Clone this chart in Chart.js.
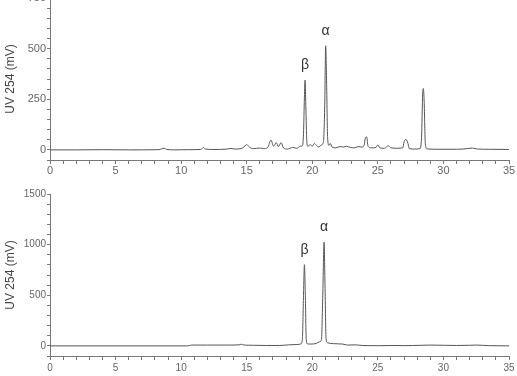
<!DOCTYPE html>
<html>
<head>
<meta charset="utf-8">
<script src="https://cdn.jsdelivr.net/npm/chart.js@4.4.0/dist/chart.umd.min.js"></script>
<style>
  body { margin: 0; background: #fff; }
  #wrap { position: relative; width: 517px; height: 376px; overflow: hidden; background: #fff; }
  canvas { position: absolute; left: 0; }
  #topChart { top: -12px; }
  #bottomChart { top: 184px; }
</style>
</head>
<body>
<div id="wrap">
  <canvas id="topChart" width="517" height="192"></canvas>
  <canvas id="bottomChart" width="517" height="192"></canvas>
</div>
<script>
// retention time (min) and detector signal (mV)
const timesTop = [0, 2, 4, 6, 8.3, 8.55, 8.7, 8.9, 9.5, 10.5, 11.5, 11.7, 11.85, 12.5, 13.5, 13.8, 14.1, 14.7, 15.0, 15.2, 15.5, 16.0, 16.3, 16.6, 16.85, 17.05, 17.25, 17.42, 17.62, 17.8, 18.1, 18.5, 18.8, 19.1, 19.25, 19.33, 19.4, 19.45, 19.5, 19.57, 19.65, 19.85, 20.0, 20.15, 20.3, 20.45, 20.7, 20.85, 20.95, 21.02, 21.09, 21.17, 21.27, 21.37, 21.5, 21.8, 22.1, 22.4, 22.6, 22.9, 23.2, 23.5, 23.8, 23.95, 24.05, 24.15, 24.25, 24.5, 24.85, 25.0, 25.15, 25.5, 25.8, 26.0, 26.5, 26.9, 27.0, 27.15, 27.3, 27.4, 27.8, 28.2, 28.33, 28.42, 28.47, 28.53, 28.62, 28.75, 29.5, 30.5, 31.5, 32.2, 32.6, 33.5, 35];
const valuesTop = [0, 0, 1, 0, 1, 6, 8, 2, 0, 1, 2, 12, 4, 2, 4, 7, 4, 10, 26, 14, 6, 9, 6, 12, 48, 18, 36, 16, 36, 10, 4, 12, 8, 18, 20, 80, 260, 344, 240, 60, 18, 26, 18, 32, 24, 14, 24, 40, 220, 514, 340, 60, 22, 32, 14, 10, 16, 14, 18, 12, 10, 16, 14, 22, 60, 64, 18, 10, 12, 24, 10, 8, 20, 10, 8, 10, 40, 52, 30, 6, 4, 6, 60, 280, 303, 240, 30, 5, 3, 3, 4, 9, 4, 3, 2];

const timesBottom = [0, 10.5, 10.8, 12, 13.5, 14.4, 14.6, 14.8, 15.5, 16.5, 17.5, 18.2, 18.9, 19.15, 19.25, 19.33, 19.4, 19.47, 19.54, 19.62, 19.9, 20.3, 20.55, 20.7, 20.8, 20.9, 20.97, 21.05, 21.18, 21.6, 22.3, 22.7, 23.3, 23.8, 25, 26.5, 27, 28.3, 29, 30, 31, 32, 32.5, 33.5, 35];
const valuesBottom = [0, 0, 8, 8, 8, 10, 16, 8, 6, 4, 4, 10, 14, 20, 80, 500, 802, 500, 60, 20, 18, 24, 40, 60, 500, 1025, 600, 70, 30, 22, 18, 8, 10, 4, 2, 4, 2, 6, 8, 6, 4, 6, 8, 2, 0];

// peak labels (anomers) and their retention times
const peakNames = ['β', 'α'];
const peakTimesTop = [19.45, 21.02];
const peakTimesBottom = [19.4, 20.9];

const xTicksMajor = 5;
const axisColor = '#777';
const textColor = '#666';

const peakLabelPlugin = {
  id: 'peakLabels',
  afterDatasetsDraw(chart, args, opts) {
    const ctx = chart.ctx;
    const xs = chart.scales.x, ys = chart.scales.y;
    const ds = chart.data.datasets[0].data;
    ctx.save();
    ctx.font = '14px "Liberation Sans", Arial, sans-serif';
    ctx.fillStyle = '#333';
    ctx.textAlign = 'center';
    ctx.textBaseline = 'middle';
    opts.times.forEach((t, i) => {
      const pt = ds.find(p => p.x === t);
      ctx.fillText(peakNames[i], xs.getPixelForValue(t), ys.getPixelForValue(pt.y) - 15);
    });
    ctx.restore();
  }
};

function makeChart(id, times, values, yMin, yMax, yStep, yLabelStep, labelTimes, fontSize, xPad) {
  const data = times.map((t, i) => ({ x: t, y: values[i] }));
  return new Chart(document.getElementById(id), {
    type: 'line',
    data: {
      datasets: [{
        data: data,
        borderColor: '#555',
        borderWidth: 1,
        pointRadius: 0,
        cubicInterpolationMode: 'monotone',
        fill: false
      }]
    },
    plugins: [peakLabelPlugin],
    options: {
      responsive: false,
      animation: false,
      devicePixelRatio: 1,
      layout: { padding: { top: 10, right: 8, left: 0, bottom: 0 } },
      plugins: {
        legend: { display: false },
        tooltip: { enabled: false },
        peakLabels: { times: labelTimes }
      },
      scales: {
        x: {
          type: 'linear',
          min: 0,
          max: 35,
          afterFit: s => { s.height = 20; },
          border: { display: true, color: axisColor, width: 1 },
          grid: { drawOnChartArea: false, drawTicks: true, tickLength: 4, color: axisColor },
          ticks: {
            stepSize: 1,
            autoSkip: false,
            maxRotation: 0,
            padding: xPad,
            color: textColor,
            font: { family: '"Liberation Sans", Arial, sans-serif', size: fontSize },
            callback: v => (v % xTicksMajor === 0 ? v : '')
          }
        },
        y: {
          min: yMin,
          max: yMax,
          afterFit: s => { s.width = 50; },
          border: { display: true, color: axisColor, width: 1 },
          grid: { drawOnChartArea: false, drawTicks: true, tickLength: 3, color: axisColor },
          title: {
            display: true,
            text: 'UV 254 (mV)',
            color: '#444',
            padding: { top: 3, bottom: 0 },
            font: { family: '"Liberation Sans", Arial, sans-serif', size: 12 }
          },
          ticks: {
            stepSize: yStep,
            autoSkip: false,
            padding: 1,
            color: textColor,
            font: { family: '"Liberation Sans", Arial, sans-serif', size: fontSize },
            callback: v => (v >= 0 && v % yLabelStep === 0 ? v : '')
          }
        }
      }
    }
  });
}

makeChart('topChart', timesTop, valuesTop, -50, 750, 50, 250, peakTimesTop, 11, 0);
makeChart('bottomChart', timesBottom, valuesBottom, -100, 1500, 100, 500, peakTimesBottom, 10, 2);
</script>
</body>
</html>
